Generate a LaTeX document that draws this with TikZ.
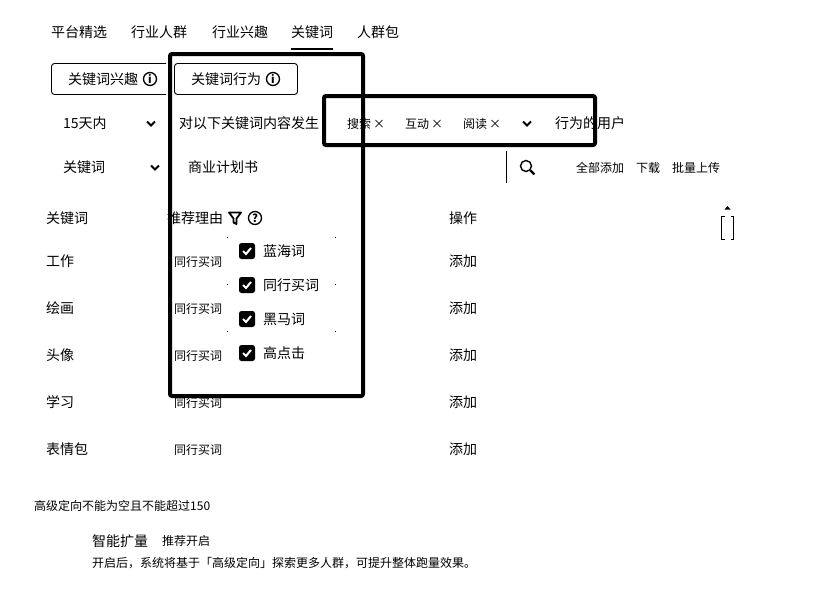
\documentclass[tikz,border=0pt]{standalone}
\usepackage{fontspec}
\setmainfont{Noto Sans CJK SC}
\usetikzlibrary{positioning}

\begin{document}
\begin{tikzpicture}[
    x=1pt, y=-1pt,
    label14/.style={anchor=west, inner sep=0pt, font=\fontsize{14}{16}\selectfont, text height=13.5pt, text depth=2pt},
    label12/.style={anchor=west, inner sep=0pt, font=\fontsize{12}{14}\selectfont, text height=10pt, text depth=2pt},
    tabbtn/.style={draw, line width=0.9pt, rounded corners=3pt},
    icon/.style={circle, draw, line width=1.3pt, inner sep=0pt, minimum size=13pt, font=\fontsize{11}{11}\selectfont\bfseries},
    chevron/.style={line width=2pt},
    closex/.style={inner sep=0pt, font=\fontsize{12}{12}\selectfont},
    checkbox/.style={fill=black, rounded corners=2.5pt, inner sep=0pt, minimum size=16pt},
    checkmark/.style={draw=white, line width=2pt},
    speck/.style={fill=black, inner sep=0pt, minimum size=1pt},
    callout/.style={draw=black, line width=4pt, rounded corners=2pt}
]
    \useasboundingbox[fill=white] (0,0) rectangle (831,592);

    % tabs
    \node[label14] (tabPlatform) at (51,32) {平台精选};
    \node[label14] (tabCrowd) at (131,32) {行业人群};
    \node[label14] (tabInterest) at (212,32) {行业兴趣};
    \node[label14] (tabKeyword) at (291,32) {关键词};
    \node[label14] (tabPack) at (357,32) {人群包};
    \draw[line width=2pt] (291,49) -- (333,49);

    % mode buttons
    \draw[tabbtn] (166,63.5) -- (51.5,63.5) -- (51.5,94.5) -- (166,94.5);
    \node[label14] (btnInterest) at (68,79) {关键词兴趣};
    \node[icon] (infoInterest) at (150,79) {i};
    \draw[tabbtn] (174.5,63.5) rectangle (297.5,94.5);
    \node[label14] (btnAction) at (191,79) {关键词行为};
    \node[icon] (infoAction) at (273,79) {i};

    % condition row
    \node[label14] (days) at (63,123) {15天内};
    \draw[chevron] (147,121.5) -- (151,125.5) -- (155,121.5);
    \node[label14] (condition) at (179,123) {对以下关键词内容发生};
    \node[label12] (search) at (347,124) {搜索};
    \node[closex] (searchX) at (379,124) {×};
    \node[label12] (interact) at (405,124) {互动};
    \node[closex] (interactX) at (437,124) {×};
    \node[label12] (read) at (463,124) {阅读};
    \node[closex] (readX) at (495,124) {×};
    \draw[chevron] (523,121.5) -- (527,125.5) -- (531,121.5);
    \node[label14] (users) at (555,123) {行为的用户};

    % search row
    \node[label14] (keyType) at (63,167) {关键词};
    \draw[chevron] (151,165.5) -- (155,169.5) -- (159,165.5);
    \node[label14] (query) at (188,167) {商业计划书};
    \draw[line width=1pt] (506,151) -- (506,183);
    \node[circle, draw, line width=1.4pt, inner sep=0pt, minimum size=11pt] (lens) at (526,166) {};
    \draw[line width=2.2pt] (lens.south east) -- +(4,4);
    \node[label12] (addAll) at (576,168) {全部添加};
    \node[label12] (download) at (636,168) {下载};
    \node[label12] (upload) at (672,168) {批量上传};

    % table head
    \node[label14] (headKeyword) at (46,218) {关键词};
    \node[label14] (headReason) at (167,218) {推荐理由};
    \draw[line width=1.8pt, line join=round] (229,212.5) -- (241,212.5) -- (236.5,218.5) -- (236.5,224) -- (233.5,222.5) -- (233.5,218.5) -- cycle;
    \node[icon] (help) at (255,218) {?};
    \node[label14] (headAction) at (449,218) {操作};

    % table rows
    \node[label14] (word1) at (46,261) {工作};
    \node[label12] (reason1) at (174,262) {同行买词};
    \node[label14] (add1) at (449,261) {添加};
    \node[label14] (word2) at (46,308) {绘画};
    \node[label12] (reason2) at (174,309) {同行买词};
    \node[label14] (add2) at (449,308) {添加};
    \node[label14] (word3) at (46,355) {头像};
    \node[label12] (reason3) at (174,356) {同行买词};
    \node[label14] (add3) at (449,355) {添加};
    \node[label14] (word4) at (46,402) {学习};
    \node[label12] (reason4) at (174,403) {同行买词};
    \node[label14] (add4) at (449,402) {添加};
    \node[label14] (word5) at (46,449) {表情包};
    \node[label12] (reason5) at (174,450) {同行买词};
    \node[label14] (add5) at (449,449) {添加};

    % filter menu
    \node[speck] (speckA) at (227,237.5) {};
    \node[speck] (speckB) at (335.5,237.5) {};
    \node[speck] (speckC) at (227,284.5) {};
    \node[speck] (speckD) at (335.5,284.5) {};
    \node[speck] (speckE) at (227,331.5) {};
    \node[speck] (speckF) at (335.5,331.5) {};
    \node[checkbox] (check1) at (247,251) {};
    \draw[checkmark] (check1.center) +(-4,0) -- +(-1,3) -- +(4,-3);
    \node[label14] (optBlue) at (263,251) {蓝海词};
    \node[checkbox] (check2) at (247,285) {};
    \draw[checkmark] (check2.center) +(-4,0) -- +(-1,3) -- +(4,-3);
    \node[label14] (optPeer) at (263,285) {同行买词};
    \node[checkbox] (check3) at (247,319) {};
    \draw[checkmark] (check3.center) +(-4,0) -- +(-1,3) -- +(4,-3);
    \node[label14] (optDark) at (263,319) {黑马词};
    \node[checkbox] (check4) at (247,353) {};
    \draw[checkmark] (check4.center) +(-4,0) -- +(-1,3) -- +(4,-3);
    \node[label14] (optClick) at (263,353) {高点击};

    % scroll marker
    \fill (724.5,209.5) -- (727.5,206) -- (730.5,209.5) -- cycle;
    \draw[line width=1.5pt] (724.5,216.5) -- (721.5,216.5) -- (721.5,239.5) -- (724.5,239.5);
    \draw[line width=1.5pt] (730.5,216.5) -- (733.5,216.5) -- (733.5,239.5) -- (730.5,239.5);

    % footer
    \node[label12] (limit) at (34,506) {高级定向不能为空且不能超过150};
    \node[label14] (smart) at (92,541) {智能扩量};
    \node[label12] (advice) at (162,541) {推荐开启};
    \node[label12] (note) at (92,563) {开启后，系统将基于「高级定向」探索更多人群，可提升整体跑量效果。};

    % callouts
    \draw[callout] (170,54) rectangle (363,396);
    \draw[callout] (324,96) rectangle (595,145);
\end{tikzpicture}
\end{document}
